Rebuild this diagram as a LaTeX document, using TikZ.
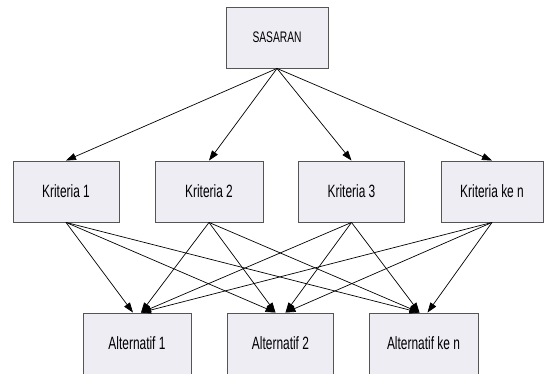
\documentclass[tikz,border=0pt]{standalone}
\usepackage{fontspec}
\usepackage{tikz}
\usetikzlibrary{arrows.meta}
\newfontfamily\boxfont[FakeStretch=0.67]{Liberation Sans}
\definecolor{boxfill}{RGB}{238,237,244}
\definecolor{boxline}{RGB}{85,85,85}

\begin{document}
\begin{tikzpicture}[x=1pt,y=-1pt,
    kotak/.style={draw=boxline, fill=boxfill, line width=0.9pt, minimum width=106pt,
        minimum height=61pt, inner sep=0pt, font=\boxfont\fontsize{17.8}{20}\selectfont},
    panah/.style={-{Triangle[length=10pt,width=7pt]}, line width=0.7pt}]
    % Frame of the picture
    \useasboundingbox (0,0) rectangle (544,374);
    \clip (0,0) rectangle (544,374);

    % Goal at the top
    \node[kotak, minimum width=102pt, font=\boxfont\fontsize{15.3}{17}\selectfont] (sasaran) at (277,37.5) {SASARAN};

    % Criteria in the middle
    \node[kotak] (k1) at (66,191.5) {Kriteria 1};
    \node[kotak, minimum width=108pt] (k2) at (209,191.5) {Kriteria 2};
    \node[kotak] (k3) at (351.5,191.5) {Kriteria 3};
    \node[kotak, minimum width=102pt] (kn) at (492,191.5) {Kriteria ke n};

    % Alternatives at the bottom
    \node[kotak, minimum width=108pt] (a1) at (137,343.5) {Alternatif 1};
    \node[kotak] (a2) at (280.5,343.5) {Alternatif 2};
    \node[kotak, minimum width=109pt] (an) at (423.5,343.5) {Alternatif ke n};

    % Goal to criteria
    \foreach \k in {k1,k2,k3,kn}
        \draw[panah] (sasaran.south) -- (\k.north);

    % Criteria to alternatives
    \foreach \k/\a/\s in {k1/a1/-4, k2/a1/4, k3/a1/4, kn/a1/4,
                          k1/a2/-5, k2/a2/-5, k3/a2/5, kn/a2/5,
                          k1/an/-4, k2/an/-4, k3/an/-4, kn/an/4}
        \draw[panah] (\k.south) -- ([xshift=\s pt]\a.north);

\end{tikzpicture}
\end{document}
